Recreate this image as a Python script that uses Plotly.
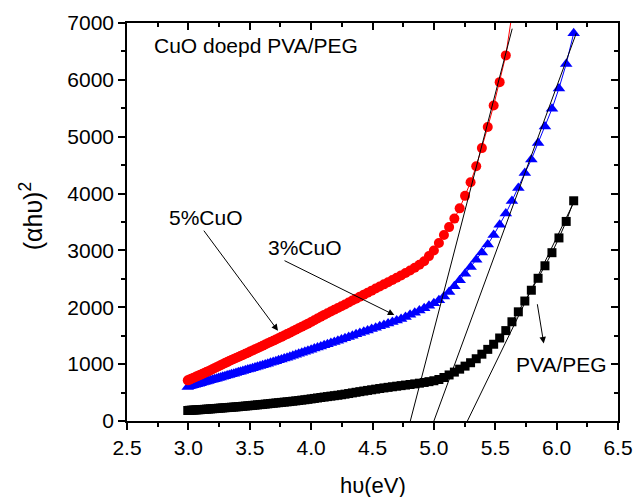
import plotly.graph_objects as go

# Photon energy grid (eV)
energy = [2.995, 3.010, 3.024, 3.039, 3.054, 3.069, 3.085, 3.100, 3.116, 3.131,
          3.147, 3.163, 3.180, 3.196, 3.212, 3.229, 3.246, 3.263, 3.280, 3.298,
          3.316, 3.333, 3.351, 3.370, 3.388, 3.407, 3.425, 3.444, 3.464, 3.484,
          3.503, 3.523, 3.543, 3.563, 3.584, 3.605, 3.626, 3.647, 3.669, 3.691,
          3.713, 3.735, 3.758, 3.781, 3.804, 3.827, 3.851, 3.875, 3.899, 3.924,
          3.949, 3.974, 4.000, 4.026, 4.052, 4.079, 4.106, 4.133, 4.161, 4.189,
          4.218, 4.247, 4.276, 4.306, 4.336, 4.366, 4.397, 4.429, 4.460, 4.493,
          4.526, 4.559, 4.593, 4.627, 4.662, 4.697, 4.733, 4.769, 4.806, 4.844,
          4.882, 4.921, 4.960, 5.000, 5.041, 5.082, 5.124, 5.167, 5.210, 5.254,
          5.299, 5.345, 5.391, 5.439, 5.487, 5.536, 5.586, 5.636, 5.688, 5.741,
          5.794, 5.849, 5.905, 5.962, 6.019, 6.078, 6.139]

# 5% CuO (red circles), first 98 energies
cuo5 = [715, 728, 742, 756, 770, 785, 800, 815, 830, 845,
        861, 877, 894, 911, 928, 946, 964, 982, 1000, 1018,
        1036, 1054, 1072, 1090, 1108, 1126, 1144, 1163, 1182, 1201,
        1221, 1241, 1261, 1281, 1302, 1323, 1344, 1366, 1388, 1410,
        1433, 1456, 1480, 1504, 1528, 1553, 1578, 1604, 1630, 1657,
        1684, 1712, 1742, 1772, 1803, 1835, 1866, 1896, 1926, 1956,
        1986, 2018, 2050, 2084, 2118, 2152, 2187, 2222, 2257, 2293,
        2329, 2366, 2403, 2441, 2480, 2520, 2561, 2603, 2647, 2695,
        2748, 2810, 2900, 3000, 3130, 3270, 3410, 3560, 3740, 3960,
        4200, 4480, 4800, 5170, 5550, 5960, 6430, 7150]

# 3% CuO (blue triangles)
cuo3 = [600, 609, 618, 627, 636, 645, 655, 665, 675, 685,
        695, 705, 715, 725, 735, 745, 756, 767, 778, 789,
        800, 811, 822, 833, 844, 856, 868, 880, 892, 904,
        916, 929, 942, 955, 968, 981, 995, 1009, 1023, 1037,
        1052, 1067, 1082, 1098, 1114, 1130, 1147, 1164, 1181, 1199,
        1217, 1236, 1255, 1274, 1293, 1312, 1331, 1350, 1370, 1390,
        1410, 1432, 1455, 1478, 1501, 1524, 1547, 1570, 1593, 1617,
        1641, 1665, 1690, 1715, 1741, 1768, 1796, 1830, 1868, 1905,
        1942, 1982, 2025, 2072, 2125, 2190, 2270, 2370, 2475, 2590,
        2710, 2835, 2965, 3105, 3270, 3450, 3650, 3870, 4100, 4360,
        4600, 4890, 5180, 5490, 5850, 6280, 6820]

# PVA/PEG (black squares)
blend = [185, 188, 190, 192, 194, 196, 198, 200, 203, 205,
         208, 210, 213, 216, 218, 221, 224, 227, 230, 233,
         236, 239, 242, 245, 248, 251, 255, 259, 263, 267,
         271, 275, 279, 284, 288, 292, 297, 302, 307, 312,
         317, 322, 327, 332, 337, 342, 348, 354, 360, 367,
         374, 381, 389, 397, 405, 413, 421, 429, 437, 445,
         453, 462, 472, 483, 494, 505, 516, 527, 538, 549,
         560, 571, 582, 592, 602, 612, 622, 632, 642, 653,
         665, 678, 692, 708, 730, 765, 810, 860, 912, 965,
         1025, 1095, 1175, 1260, 1350, 1460, 1590, 1745, 1920, 2110,
         2300, 2510, 2730, 2960, 3220, 3510, 3873]

# Linear fits (Tauc extrapolation lines)
fit5_x = [4.808, 5.638]
fit5_y = [0, 6900]
fit3_x = [5.0, 6.16]
fit3_y = [0, 6820]
fitb_x = [5.273, 6.15]
fitb_y = [0, 3890]

FONT = "Liberation Sans, Arial, sans-serif"

fig = go.Figure()
fig.add_trace(go.Scatter(x=energy, y=blend, mode="lines+markers",
                         line=dict(color="black", width=1),
                         marker=dict(symbol="square", size=9, color="black"),
                         showlegend=False))
fig.add_trace(go.Scatter(x=energy, y=cuo3, mode="lines+markers",
                         line=dict(color="#0000FF", width=1),
                         marker=dict(symbol="triangle-up", size=11, color="#0000FF"),
                         showlegend=False))
fig.add_trace(go.Scatter(x=energy[:len(cuo5)], y=cuo5, mode="lines+markers",
                         line=dict(color="#FF0000", width=1),
                         marker=dict(symbol="circle", size=10, color="#FF0000"),
                         showlegend=False))
for fx, fy in [(fit5_x, fit5_y), (fit3_x, fit3_y), (fitb_x, fitb_y)]:
    fig.add_trace(go.Scatter(x=fx, y=fy, mode="lines",
                             line=dict(color="black", width=1), showlegend=False))

# dummy trace for mirrored (top/right) axes
fig.add_trace(go.Scatter(x=[None], y=[None], xaxis="x2", yaxis="y2",
                         showlegend=False, hoverinfo="skip"))

axis_common = dict(showline=True, linecolor="black", linewidth=1.5, automargin=False,
                   showgrid=False, zeroline=False, tickcolor="black", tickwidth=1.5)

fig.update_layout(
    template="none",
    width=634, height=497,
    margin=dict(l=127, r=16, t=23, b=76),
    paper_bgcolor="white", plot_bgcolor="white",
    font=dict(family=FONT, size=21, color="black"),
    xaxis=dict(range=[2.5, 6.5], dtick=0.5, tick0=2.5, tickformat=".1f",
               ticks="outside", ticklen=7,
               minor=dict(ticks="outside", ticklen=4, dtick=0.25, tickcolor="black", tickwidth=1.5),
               tickfont=dict(family=FONT, size=21), **axis_common),
    yaxis=dict(range=[0, 7000], dtick=1000, tick0=0,
               ticks="outside", ticklen=7,
               minor=dict(ticks="outside", ticklen=4, dtick=500, tickcolor="black", tickwidth=1.5),
               tickfont=dict(family=FONT, size=21), **axis_common),
    xaxis2=dict(range=[2.5, 6.5], dtick=0.5, tick0=2.5, overlaying="x", side="top",
                ticks="inside", ticklen=7, showticklabels=False,
                minor=dict(ticks="inside", ticklen=4, dtick=0.25, tickcolor="black", tickwidth=1.5),
                **axis_common),
    yaxis2=dict(range=[0, 7000], dtick=1000, tick0=0, overlaying="y", side="right",
                ticks="inside", ticklen=7, showticklabels=False,
                minor=dict(ticks="inside", ticklen=4, dtick=500, tickcolor="black", tickwidth=1.5),
                **axis_common),
)

annotations = [
    dict(text="CuO doepd PVA/PEG", x=2.705, y=6606, xref="x", yref="y",
         xanchor="left", yanchor="middle", showarrow=False),
    dict(text="5%CuO", x=2.828, y=3574, xref="x", yref="y",
         xanchor="left", yanchor="middle", showarrow=False),
    dict(text="3%CuO", x=3.635, y=3045, xref="x", yref="y",
         xanchor="left", yanchor="middle", showarrow=False),
    dict(text="PVA/PEG", x=5.655, y=1000, xref="x", yref="y",
         xanchor="left", yanchor="middle", showarrow=False),
    dict(text="h\u03c5(eV)", x=0.5, y=-0.163, xref="paper", yref="paper",
         xanchor="center", yanchor="middle", showarrow=False, font=dict(size=22)),
    dict(text="(\u03b1h\u03c5)<sup>2</sup>", x=-0.195, y=0.515, xref="paper", yref="paper",
         xanchor="center", yanchor="middle", showarrow=False, textangle=-90,
         font=dict(size=25)),
]
arrows = [((3.117, 3374), (3.730, 1587)),
          ((3.771, 2833), (4.678, 1864)),
          ((5.841, 2080), (5.895, 1365))]
for (tx, ty), (hx, hy) in arrows:
    annotations.append(dict(text="", x=hx, y=hy, ax=tx, ay=ty, xref="x", yref="y",
                            axref="x", ayref="y", showarrow=True, arrowhead=2,
                            arrowsize=1.3, arrowwidth=1, arrowcolor="black", standoff=0))
fig.update_layout(annotations=annotations)

fig.write_html("out.html", config={"displayModeBar": False},
               post_script="document.body.style.margin='0';")
